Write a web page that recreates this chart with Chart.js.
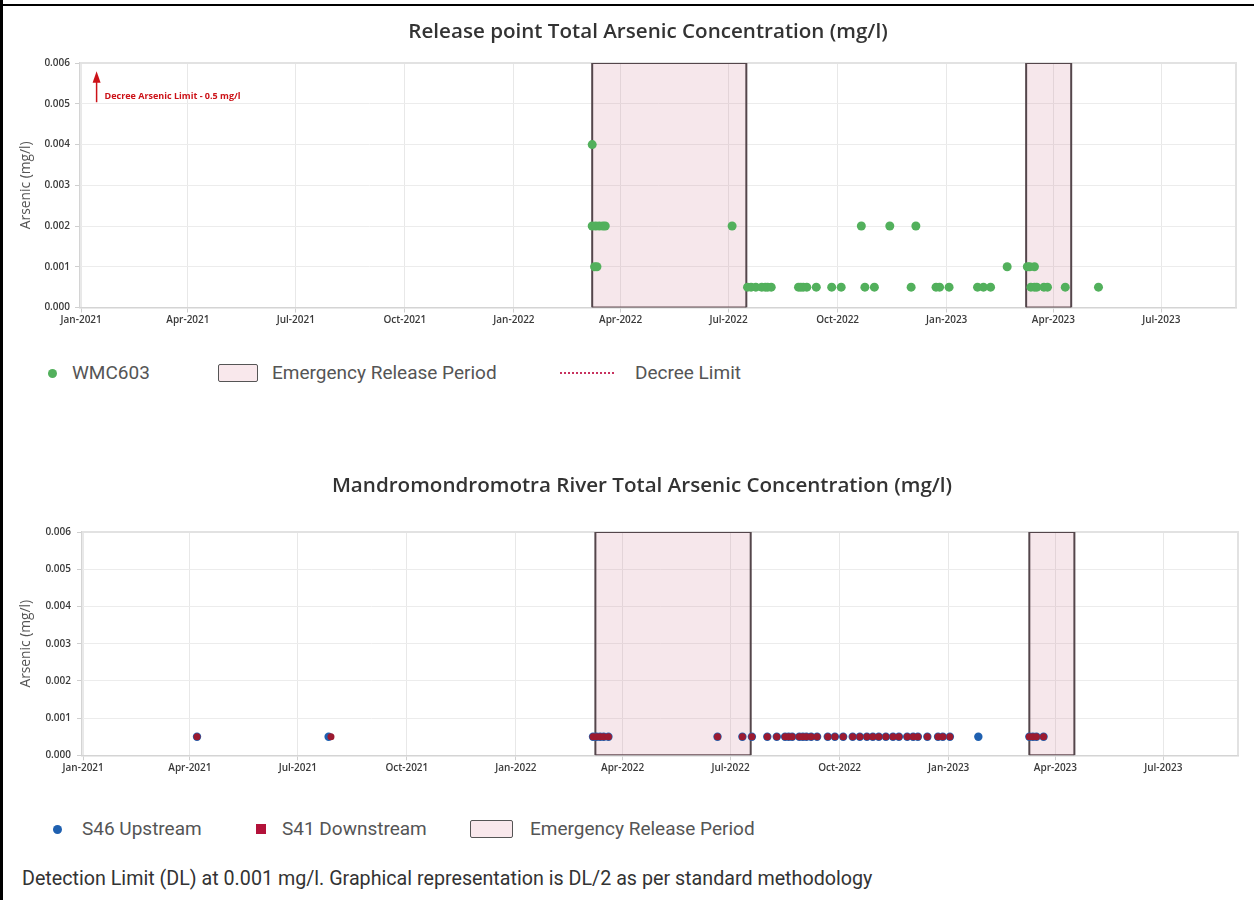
<!DOCTYPE html>
<html>
<head>
<meta charset="utf-8">
<title>Arsenic Concentration</title>
<script src="https://cdn.jsdelivr.net/npm/chart.js@4.4.1/dist/chart.umd.min.js"></script>
<style>
  html, body { margin:0; padding:0; background:#fff; }
  body { position:relative; width:1255px; height:900px; overflow:hidden; }
  .wrap { position:absolute; left:0; }
  #wrapTop { top:0; width:1296px; height:332px; }
  #wrapBottom { top:440px; width:1284px; height:339px; }
  .frameL { position:absolute; left:0; top:0; width:3px; height:900px; background:#000; }
  .frameT { position:absolute; left:0; top:4px; width:1254px; height:2px; background:#000; }
  .legend { position:absolute; left:0; width:1255px; height:0; font-family:Roboto, sans-serif; font-size:19px; color:#555; }
  .legend .icon { position:absolute; box-sizing:border-box; }
  .legend .txt { position:absolute; top:-12px; line-height:24px; white-space:nowrap; }
  #legendTop { top:373px; }
  #legendBottom { top:829px; }
  .footer { position:absolute; left:22px; top:866px; line-height:26px; font-family:Roboto, sans-serif; font-size:19.7px; color:#333; white-space:nowrap; }
</style>
</head>
<body>
<div class="wrap" id="wrapTop"><canvas id="chartTop"></canvas></div>
<div class="legend" id="legendTop"></div>
<div class="wrap" id="wrapBottom"><canvas id="chartBottom"></canvas></div>
<div class="legend" id="legendBottom"></div>
<div class="footer">Detection Limit (DL) at 0.001 mg/l. Graphical representation is DL/2 as per standard methodology</div>
<div class="frameL"></div>
<div class="frameT"></div>
<script>
// ---------------- DATA ----------------
const titleTop = 'Release point Total Arsenic Concentration (mg/l)';
const titleBottom = 'Mandromondromotra River Total Arsenic Concentration (mg/l)';
const yAxisTitle = 'Arsenic (mg/l)';

const xAxisMin = '2020-12-31';
const xAxisMax = '2023-09-02';
const tickDates = ['2021-01-01','2021-04-01','2021-07-01','2021-10-01','2022-01-01','2022-04-01','2022-07-01','2022-10-01','2023-01-01','2023-04-01','2023-07-01'];
const tickLabels = ['Jan-2021','Apr-2021','Jul-2021','Oct-2021','Jan-2022','Apr-2022','Jul-2022','Oct-2022','Jan-2023','Apr-2023','Jul-2023'];
const yTicks = [0, 0.001, 0.002, 0.003, 0.004, 0.005, 0.006];
const yMax = 0.006;

// Release point WMC603
const wmc603Dates = [
  '2022-03-08','2022-03-08','2022-03-11','2022-03-14','2022-03-17','2022-03-19','2022-03-10','2022-03-12',
  '2022-07-04','2022-07-17','2022-07-20','2022-07-24','2022-07-29','2022-08-01','2022-08-03','2022-08-06',
  '2022-08-29','2022-08-31','2022-09-02','2022-09-05','2022-09-13','2022-09-26','2022-10-04','2022-10-21',
  '2022-10-24','2022-11-01','2022-11-14','2022-12-02','2022-12-06','2022-12-23','2022-12-26','2023-01-03',
  '2023-01-27','2023-02-01','2023-02-07','2023-02-21','2023-03-10','2023-03-12','2023-03-16','2023-03-13',
  '2023-03-16','2023-03-18','2023-03-24','2023-03-27','2023-04-11','2023-05-09'
];
const wmc603Values = [
  0.004, 0.002, 0.002, 0.002, 0.002, 0.002, 0.001, 0.001,
  0.002, 0.0005, 0.0005, 0.0005, 0.0005, 0.0005, 0.0005, 0.0005,
  0.0005, 0.0005, 0.0005, 0.0005, 0.0005, 0.0005, 0.0005, 0.002,
  0.0005, 0.0005, 0.002, 0.0005, 0.002, 0.0005, 0.0005, 0.0005,
  0.0005, 0.0005, 0.0005, 0.001, 0.001, 0.001, 0.001, 0.0005,
  0.0005, 0.0005, 0.0005, 0.0005, 0.0005, 0.0005
];

// River stations
const s41Dates = [
  '2021-04-07','2021-07-29','2022-03-07','2022-03-10','2022-03-13','2022-03-16','2022-03-20','2022-06-20',
  '2022-07-11','2022-07-19','2022-08-01','2022-08-09','2022-08-16','2022-08-19','2022-08-22','2022-08-28',
  '2022-08-31','2022-09-03','2022-09-07','2022-09-12','2022-09-21','2022-09-27','2022-10-04','2022-10-12',
  '2022-10-18','2022-10-24','2022-10-29','2022-11-03','2022-11-09','2022-11-15','2022-11-20','2022-11-27',
  '2022-12-02','2022-12-06','2022-12-14','2022-12-23','2022-12-27','2023-01-02','2023-03-10','2023-03-13',
  '2023-03-16','2023-03-22'
];
const s41Values = s41Dates.map(() => 0.0005);
const s46Dates = [
  '2021-04-07','2021-07-27','2022-03-07','2022-03-10','2022-03-13','2022-03-16','2022-03-20','2022-06-20',
  '2022-07-11','2022-07-19','2022-08-01','2022-08-09','2022-08-16','2022-08-19','2022-08-22','2022-08-28',
  '2022-08-31','2022-09-03','2022-09-07','2022-09-12','2022-09-21','2022-09-27','2022-10-04','2022-10-12',
  '2022-10-18','2022-10-24','2022-10-29','2022-11-03','2022-11-09','2022-11-15','2022-11-20','2022-11-27',
  '2022-12-02','2022-12-06','2022-12-14','2022-12-23','2022-12-27','2023-01-02','2023-01-26','2023-03-10',
  '2023-03-13','2023-03-16','2023-03-22'
];
const s46Values = s46Dates.map(() => 0.0005);

// Emergency release periods
const releaseStartTop = ['2022-03-08','2023-03-09'];
const releaseEndTop   = ['2022-07-16','2023-04-16'];
const releaseStartBottom = ['2022-03-09','2023-03-10'];
const releaseEndBottom   = ['2022-07-18','2023-04-17'];

// Decree limit (0.5 mg/l, far above the axis) and its arrow note
const decreeLimit = 0.5;
const decreeArrowDate = '2021-01-14';
const decreeArrowBase = 0.00504;
const decreeArrowTip = 0.0058;
const decreeTextLevel = 0.00518;
const decreeText = 'Decree Arsenic Limit - 0.5 mg/l';

// ---------------- HELPERS ----------------
const toTime = s => { const [y, m, d] = s.split('-').map(Number); return Date.UTC(y, m - 1, d); };
const tickTimes = tickDates.map(toTime);
const pts = (dates, vals) => dates.map((d, i) => ({ x: toTime(d), y: vals[i] }));
function rectOutline(starts, ends) {
  const out = [];
  starts.forEach((s, i) => {
    const a = toTime(s), b = toTime(ends[i]);
    if (i > 0) out.push({ x: (toTime(ends[i - 1]) + a) / 2, y: null });
    out.push({ x: a, y: 0 }, { x: a, y: yMax }, { x: b, y: yMax }, { x: b, y: 0 });
  });
  return out;
}
function rectBase(starts, ends) {
  const out = [];
  starts.forEach((s, i) => {
    const a = toTime(s), b = toTime(ends[i]);
    if (i > 0) out.push({ x: (toTime(ends[i - 1]) + a) / 2, y: null });
    out.push({ x: a, y: 0 }, { x: b, y: 0 });
  });
  return out;
}

const GREEN = '#52b05c';
const BLUE = '#1f60b0';
const RED = '#9c1a30';
const RED_LEGEND = '#b3123a';
const RECT_FILL = 'rgba(200,110,135,0.17)';
const RECT_BORDER = '#54464b';
const DECREE = '#c8325e';

// ---------------- PLUGINS ----------------
const plotFrame = {
  id: 'plotFrame',
  beforeDatasetsDraw(chart) {
    const { ctx, chartArea: a } = chart;
    ctx.save();
    ctx.strokeStyle = '#e2e2e2';
    ctx.lineWidth = 2;
    ctx.beginPath();
    ctx.moveTo(a.left, a.top); ctx.lineTo(a.right, a.top); ctx.lineTo(a.right, a.bottom);
    ctx.stroke();
    ctx.restore();
  }
};

const decreeArrow = {
  id: 'decreeArrow',
  afterDatasetsDraw(chart) {
    const { ctx, scales: { x, y } } = chart;
    const px = x.getPixelForValue(toTime(decreeArrowDate));
    const yb = y.getPixelForValue(decreeArrowBase);
    const yt = y.getPixelForValue(decreeArrowTip);
    ctx.save();
    ctx.strokeStyle = '#cc1218';
    ctx.fillStyle = '#cc1218';
    ctx.lineWidth = 1.5;
    ctx.beginPath(); ctx.moveTo(px, yb); ctx.lineTo(px, yt + 9); ctx.stroke();
    ctx.beginPath(); ctx.moveTo(px, yt); ctx.lineTo(px - 4, yt + 11.5); ctx.lineTo(px + 4, yt + 11.5); ctx.closePath(); ctx.fill();
    ctx.font = 'bold 9px "Open Sans"';
    ctx.textBaseline = 'middle';
    ctx.textAlign = 'left';
    ctx.fillText(decreeText, px + 8, y.getPixelForValue(decreeTextLevel));
    ctx.restore();
  }
};

const htmlLegend = {
  id: 'htmlLegend',
  afterUpdate(chart, args, opts) {
    const box = document.getElementById(opts.containerID);
    box.innerHTML = '';
    let k = 0;
    chart.data.datasets.forEach(ds => {
      if (!ds.legendIcon) return;
      const icon = document.createElement('span');
      icon.className = 'icon';
      const st = icon.style;
      st.left = opts.iconLeft[k] + 'px';
      if (ds.legendIcon === 'dot') {
        st.width = st.height = '9px'; st.top = '-4.5px'; st.borderRadius = '50%'; st.background = ds.legendColor || ds.backgroundColor;
      } else if (ds.legendIcon === 'square') {
        st.width = st.height = '10px'; st.top = '-5px'; st.background = ds.legendColor || ds.backgroundColor;
      } else if (ds.legendIcon === 'box') {
        st.width = opts.boxWidth + 'px'; st.height = '18px'; st.top = '-9px';
        st.background = '#f9e8ec'; st.border = '1.5px solid #555'; st.borderRadius = '2px';
      } else if (ds.legendIcon === 'dots') {
        st.width = '54px'; st.height = '0px'; st.top = '-1px'; st.borderTop = '2px dotted ' + ds.borderColor;
      }
      const txt = document.createElement('span');
      txt.className = 'txt';
      txt.textContent = ds.label;
      txt.style.left = opts.textLeft[k] + 'px';
      box.appendChild(icon); box.appendChild(txt);
      k++;
    });
  }
};

Chart.defaults.font.family = '"Open Sans", sans-serif';

function makeOptions(cfg) {
  return {
    responsive: true,
    maintainAspectRatio: false,
    animation: false,
    devicePixelRatio: 1,
    layout: { padding: { left: 0, right: 0, top: 0, bottom: 0 } },
    plugins: {
      legend: { display: false },
      tooltip: { enabled: false },
      title: {
        display: true, text: cfg.title, color: '#333',
        font: { family: '"Open Sans", sans-serif', size: 20.6, weight: '600' },
        padding: { top: cfg.titleTop, bottom: cfg.titleBottom }
      },
      htmlLegend: cfg.legend
    },
    scales: {
      x: {
        type: 'linear', position: 'bottom',
        min: toTime(xAxisMin), max: toTime(xAxisMax),
        afterBuildTicks: s => { s.ticks = tickTimes.map(v => ({ value: v })); },
        afterFit: s => { s.height = cfg.xHeight; },
        ticks: {
          autoSkip: false, maxRotation: 0, minRotation: 0, padding: 2,
          color: '#3a3a3a', font: { size: 10, weight: '600' },
          callback: v => tickLabels[tickTimes.indexOf(v)]
        },
        grid: { color: '#e8e8e8', lineWidth: 1, tickLength: 5, tickColor: '#cfcfcf' },
        border: { color: '#d4d4d4', width: 1.5 }
      },
      y: {
        type: 'linear', position: 'left', min: 0, max: yMax,
        afterBuildTicks: s => { s.ticks = yTicks.map(v => ({ value: v })); },
        afterFit: s => { s.width = cfg.yWidth; },
        ticks: {
          padding: cfg.yTickPad, color: '#3a3a3a', font: { size: 10, weight: '600' },
          callback: v => v.toFixed(3)
        },
        grid: { color: '#ececec', lineWidth: 1, tickLength: 5, tickColor: '#cfcfcf' },
        border: { color: '#d4d4d4', width: 1.5 },
        title: {
          display: true, text: yAxisTitle, color: '#555',
          font: { size: 13.8, weight: '400' }, padding: { top: 18, bottom: 0 }
        }
      },
      yRight: {
        type: 'linear', position: 'right', display: true,
        afterFit: s => { s.width = cfg.rightWidth; },
        ticks: { display: false },
        grid: { display: false },
        border: { display: false }
      }
    }
  };
}

// ---------------- TOP CHART ----------------
new Chart(document.getElementById('chartTop'), {
  type: 'line',
  data: {
    datasets: [
      {
        type: 'scatter', label: 'WMC603', legendIcon: 'dot',
        data: pts(wmc603Dates, wmc603Values),
        backgroundColor: GREEN, borderWidth: 0, pointRadius: 4.5, order: 0
      },
      {
        type: 'line', label: 'Emergency Release Period', legendIcon: 'box',
        data: rectOutline(releaseStartTop, releaseEndTop),
        borderColor: RECT_BORDER, borderWidth: 2, backgroundColor: RECT_FILL,
        fill: 'origin', pointRadius: 0, tension: 0, spanGaps: false, order: 2
      },
      {
        type: 'line', data: rectBase(releaseStartTop, releaseEndTop),
        borderColor: RECT_BORDER, borderWidth: 2, fill: false, pointRadius: 0, spanGaps: false, order: 2
      },
      {
        type: 'line', label: 'Decree Limit', legendIcon: 'dots',
        data: [{ x: toTime(xAxisMin), y: decreeLimit }, { x: toTime(xAxisMax), y: decreeLimit }],
        borderColor: DECREE, borderDash: [2, 3], borderWidth: 2, fill: false, pointRadius: 0, order: 3
      }
    ]
  },
  options: makeOptions({
    title: titleTop, titleTop: 19.5, titleBottom: 18.9, xHeight: 24.5, yWidth: 80, yTickPad: 5, rightWidth: 60,
    legend: { containerID: 'legendTop', iconLeft: [47.5, 218, 560], textLeft: [72, 272, 635], boxWidth: 40 }
  }),
  plugins: [plotFrame, decreeArrow, htmlLegend]
});

// ---------------- BOTTOM CHART ----------------
new Chart(document.getElementById('chartBottom'), {
  type: 'line',
  data: {
    datasets: [
      {
        type: 'scatter', label: 'S46 Upstream', legendIcon: 'dot',
        data: pts(s46Dates, s46Values),
        backgroundColor: BLUE, borderWidth: 0, pointRadius: 4.2, order: 1
      },
      {
        type: 'scatter', label: 'S41 Downstream', legendIcon: 'square', legendColor: RED_LEGEND,
        data: pts(s41Dates, s41Values),
        backgroundColor: RED, borderWidth: 0, pointRadius: 3.5, order: 0
      },
      {
        type: 'line', label: 'Emergency Release Period', legendIcon: 'box',
        data: rectOutline(releaseStartBottom, releaseEndBottom),
        borderColor: RECT_BORDER, borderWidth: 2, backgroundColor: RECT_FILL,
        fill: 'origin', pointRadius: 0, tension: 0, spanGaps: false, order: 2
      },
      {
        type: 'line', data: rectBase(releaseStartBottom, releaseEndBottom),
        borderColor: RECT_BORDER, borderWidth: 2, fill: false, pointRadius: 0, spanGaps: false, order: 2
      }
    ]
  },
  options: makeOptions({
    title: titleBottom, titleTop: 33.5, titleBottom: 33.9, xHeight: 23.7, yWidth: 82, yTickPad: 6, rightWidth: 46,
    legend: { containerID: 'legendBottom', iconLeft: [52.5, 256, 470], textLeft: [82, 282, 530], boxWidth: 43 }
  }),
  plugins: [plotFrame, htmlLegend]
});
</script>
</body>
</html>
